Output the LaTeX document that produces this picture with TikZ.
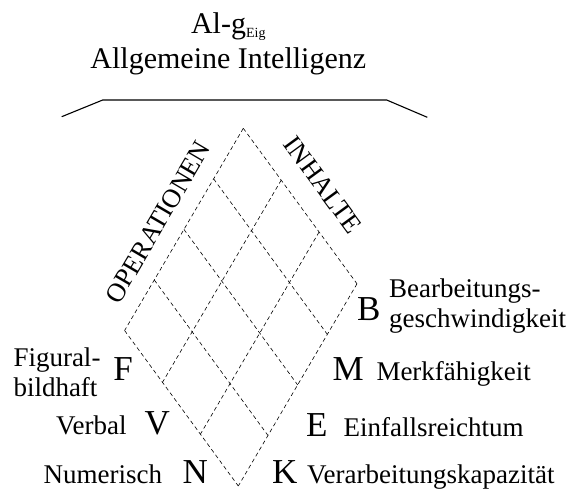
\documentclass[tikz,border=0pt]{standalone}
\usepackage{fontspec}
\setmainfont{Liberation Serif}
\begin{document}
\begin{tikzpicture}[x=1pt,y=-1pt,
  gridline/.style={dash pattern=on 4pt off 3pt, line width=0.6pt},
  bracketline/.style={line width=1.1pt},
  ttl/.style={inner sep=0pt, font=\fontsize{30}{32}\selectfont},
  lbl/.style={inner sep=0pt, font=\fontsize{27}{30}\selectfont},
  bigl/.style={inner sep=0pt, font=\fontsize{35}{36}\selectfont},
  axis/.style={inner sep=0pt, font=\fontsize{26.5}{28}\selectfont}]
\useasboundingbox (0,0) rectangle (571,491);
% titles
\node[ttl, anchor=base] (alg) at (228.3,33.3) {Al-g\raisebox{-4pt}{\fontsize{14}{14}\selectfont Eig}};
\node[ttl, anchor=base] (allg) at (228.3,68.3) {Allgemeine Intelligenz};
% bracket
\coordinate (b1) at (61.7,116.7);
\coordinate (b2) at (102.7,100);
\coordinate (b3) at (386.7,100);
\coordinate (b4) at (427.3,117.3);
\draw[bracketline] (b1) -- (b2) -- (b3) -- (b4);
% grid
\def\Tx{243.3}\def\Ty{128.3}\def\ux{113.7}\def\uy{155.5}\def\vx{-118.7}\def\vy{202.2}
\foreach \k in {0,1,2,3}{
  \draw[gridline] ({\Tx+\k*\ux/3},{\Ty+\k*\uy/3}) -- ++(\vx,\vy);
}
\foreach \j in {0,1,2,3,4}{
  \draw[gridline] ({\Tx+\j*\vx/4},{\Ty+\j*\vy/4}) -- ++(\ux,\uy);
}
% axis labels
\node[axis, rotate=59.6] (ops) at (158,222.2) {OPERATIONEN};
\node[axis, rotate=-53.8] (inh) at (323,185) {INHALTE};
% left labels
\node[lbl, anchor=base west] (fig1) at (13.3,366.7) {Figural-};
\node[lbl, anchor=base west] (fig2) at (13.3,396.7) {bildhaft};
\node[bigl, anchor=base east] (F) at (133,380) {F};
\node[lbl, anchor=base east] (verb) at (126.7,434.3) {Verbal};
\node[bigl, anchor=base east] (V) at (170,434.3) {V};
\node[lbl, anchor=base east] (num) at (162.3,483.3) {Numerisch};
\node[bigl, anchor=base east] (N) at (208,483.3) {N};
% right labels
\node[bigl, anchor=base west] (B) at (357,320) {B};
\node[lbl, anchor=base west] (bea1) at (389,297) {Bearbeitungs-};
\node[lbl, anchor=base west] (bea2) at (389,327) {geschwindigkeit};
\node[bigl, anchor=base west] (M) at (332.5,380) {M};
\node[lbl, anchor=base west] (mer) at (376.3,380) {Merkfähigkeit};
\node[bigl, anchor=base west] (E) at (306,436.7) {E};
\node[lbl, anchor=base west] (ein) at (343.4,436.7) {Einfallsreichtum};
\node[bigl, anchor=base west] (K) at (272,483.3) {K};
\node[lbl, anchor=base west] (ver) at (307,483.3) {Verarbeitungskapazität};
\end{tikzpicture}
\end{document}
